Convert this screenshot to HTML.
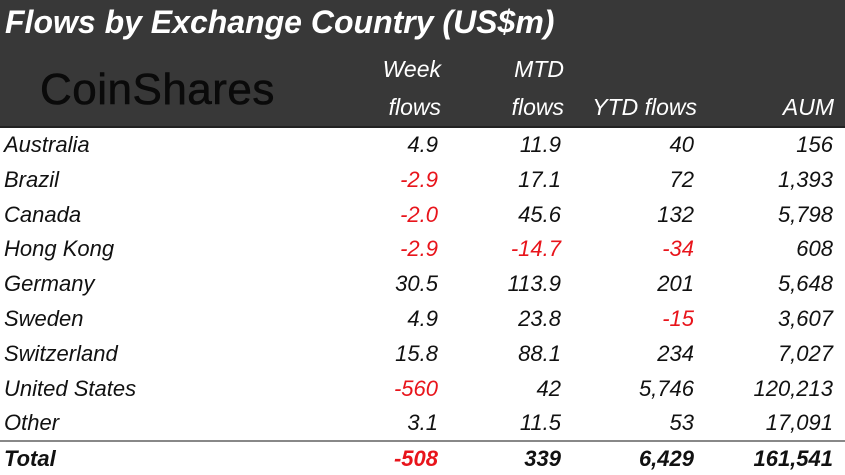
<!DOCTYPE html>
<html><head><meta charset="utf-8"><style>
body{margin:0;width:845px;height:475px;overflow:hidden;background:#fff;font-family:"Liberation Sans",sans-serif;position:relative}
.a{position:absolute;white-space:nowrap}
.c{font-style:italic;font-size:22px;color:#111;line-height:26px}
.r{text-align:right}
.neg{color:#e8141b}
.h{font-style:italic;font-size:23px;color:#fff;line-height:26px}
</style></head><body>
<div class="a" style="left:0;top:0;width:845px;height:126px;background:#383838;border-bottom:2px solid #222"></div>
<div class="a" style="left:5px;top:3px;font-size:32px;font-weight:bold;font-style:italic;color:#fff;line-height:38px">Flows by Exchange Country (US$m)</div>
<div class="a" style="left:40px;top:66px;font-size:44px;color:#0a0a0a;line-height:48px;letter-spacing:0.5px;-webkit-text-stroke:0.6px #0a0a0a">CoinShares</div>
<div class="a h r" style="right:404px;top:56px">Week</div>
<div class="a h r" style="right:404px;top:94px">flows</div>
<div class="a h r" style="right:281px;top:56px">MTD</div>
<div class="a h r" style="right:281px;top:94px">flows</div>
<div class="a h r" style="right:148px;top:94px">YTD flows</div>
<div class="a h r" style="right:11px;top:94px">AUM</div>
<div id="rows"></div>
<div class="a" style="left:0;top:440px;width:845px;height:2px;background:#888"></div>
<script>
const countries=["Australia","Brazil","Canada","Hong Kong","Germany","Sweden","Switzerland","United States","Other","Total"];
const week=["4.9","-2.9","-2.0","-2.9","30.5","4.9","15.8","-560","3.1","-508"];
const mtd=["11.9","17.1","45.6","-14.7","113.9","23.8","88.1","42","11.5","339"];
const ytd=["40","72","132","-34","201","-15","234","5,746","53","6,429"];
const aum=["156","1,393","5,798","608","5,648","3,607","7,027","120,213","17,091","161,541"];
const rights=[407,284,151,12];
const cont=document.getElementById('rows');
countries.forEach((c,i)=>{
  const top=(i<9?132+i*34.8:446);
  const total=i===9;
  const mk=(txt,css,name)=>{
    const d=document.createElement('div');
    d.className='a c'+(css?' '+css:'');
    d.style.top=top+'px';
    if(total){d.style.fontWeight='bold';}
    d.textContent=txt;
    
    
    cont.appendChild(d);return d;
  };
  const l=mk(c,'', 'country-label');
  l.style.left='4px';
  [week[i],mtd[i],ytd[i],aum[i]].forEach((v,j)=>{
    const d=mk(v,'r'+(v.startsWith('-')?' neg':''),'cell-value');
    d.style.right=rights[j]+'px';
  });
});
</script>
</body></html>
